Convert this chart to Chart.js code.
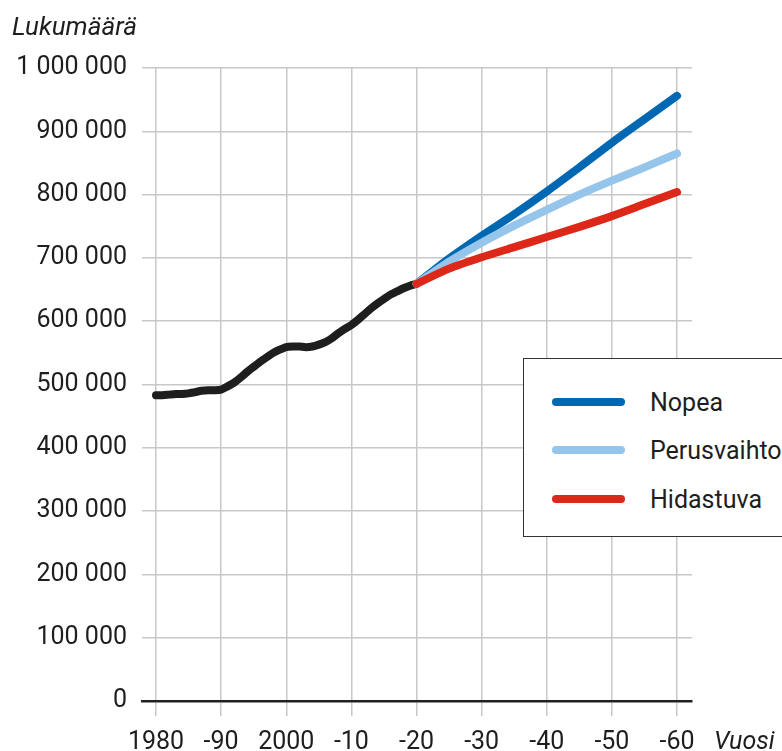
<!DOCTYPE html>
<html>
<head>
<meta charset="utf-8">
<script src="https://cdn.jsdelivr.net/npm/chart.js@4/dist/chart.umd.min.js"></script>
<style>
  html, body { margin: 0; padding: 0; background: #fff; overflow: hidden; }
  #wrap { position: relative; width: 782px; height: 751px; }
  #legend {
    position: absolute; left: 523px; top: 358px; width: 300px; height: 179px;
    border: 1.5px solid #333; background: #fff; box-sizing: border-box;
    font-family: Roboto, sans-serif; font-size: 25px; color: #1e1e1e;
  }
  .item { position: absolute; left: 28px; height: 30px; display: flex; align-items: center; white-space: nowrap; }
  .sw { width: 73px; height: 8px; border-radius: 4px; margin-right: 25px; }
</style>
</head>
<body>
<div id="wrap">
  <canvas id="chart" width="782" height="751"></canvas>
  <div id="legend"></div>
</div>
<script>
// Historical population 1980–2020
const histYears = [1980, 1981, 1982, 1983, 1984, 1985, 1986, 1987, 1988, 1989,
  1990, 1991, 1992, 1993, 1994, 1995, 1996, 1997, 1998, 1999,
  2000, 2001, 2002, 2003, 2004, 2005, 2006, 2007, 2008, 2009,
  2010, 2011, 2012, 2013, 2014, 2015, 2016, 2017, 2018, 2019, 2020];
const histValues = [483000, 483000, 484000, 485000, 485000, 486000, 488000, 490000, 491000, 491000,
  492000, 497000, 503000, 511000, 520000, 528000, 536000, 543000, 550000, 555000,
  559000, 560000, 560000, 559000, 560000, 563000, 567000, 573000, 581000, 588000,
  594000, 602000, 611000, 620000, 628000, 635000, 642000, 647000, 652000, 656000, 659000];

// Projections 2020–2060
const projYears = [2020, 2025, 2030, 2035, 2040, 2045, 2050, 2055, 2060];
const nopea      = [659000, 699000, 735000, 769000, 805000, 843000, 882000, 919000, 956000];
const perus      = [659000, 694000, 724000, 751000, 776000, 800000, 822000, 843000, 865000];
const hidastuva  = [659000, 683000, 701000, 717000, 733000, 749000, 766000, 785000, 804000];

const tickYears  = [1980, 1990, 2000, 2010, 2020, 2030, 2040, 2050, 2060];
const tickLabels = ['1980', '-90', '2000', '-10', '-20', '-30', '-40', '-50', '-60'];

const toXY = (xs, ys) => xs.map((x, i) => ({ x, y: ys[i] }));
const fmt = v => String(v).replace(/\B(?=(\d{3})+(?!\d))/g, ' ');

const textColor = '#1e1e1e';
const gridColor = '#c8c8c8';
const tickFont = { family: 'Roboto', size: 25 };

const lineStyle = {
  borderWidth: 8,
  borderCapStyle: 'round',
  borderJoinStyle: 'round',
  pointRadius: 0,
  tension: 0.25,
  fill: false,
};

const titles = {
  id: 'titles',
  afterDraw(chart) {
    const ctx = chart.ctx;
    ctx.save();
    ctx.fillStyle = textColor;
    ctx.textBaseline = 'alphabetic';
    ctx.textAlign = 'left';
    ctx.font = 'italic 26px Roboto';
    ctx.fillText('Lukumäärä', 12, 35);
    ctx.font = 'italic 25px Roboto';
    ctx.fillText('Vuosi', 714, 749);
    ctx.restore();
  }
};

const chart = new Chart(document.getElementById('chart'), {
  type: 'line',
  data: {
    datasets: [
      { label: 'Historia', data: toXY(histYears, histValues), borderColor: '#1e1e1e', order: 4, ...lineStyle },
      { label: 'Nopea', data: toXY(projYears, nopea), borderColor: '#0068b3', order: 3, ...lineStyle },
      { label: 'Perusvaihtoehto', data: toXY(projYears, perus), borderColor: '#96c5eb', order: 2, ...lineStyle },
      { label: 'Hidastuva', data: toXY(projYears, hidastuva), borderColor: '#dc2719', order: 1, ...lineStyle },
    ],
  },
  options: {
    responsive: false,
    animation: false,
    layout: { padding: { top: 68, right: 90, bottom: 0, left: 0 } },
    plugins: { legend: { display: false }, tooltip: { enabled: false } },
    scales: {
      x: {
        type: 'linear',
        min: 1977.85,
        max: 2062.3,
        afterBuildTicks: s => { s.ticks = tickYears.map(v => ({ value: v })); },
        afterFit: s => { s.height = 50; },
        ticks: {
          autoSkip: false, maxRotation: 0, padding: 12,
          color: textColor, font: tickFont,
          callback: (v, i) => tickLabels[i],
        },
        grid: { color: gridColor, lineWidth: 1.5, tickLength: 15 },
        border: { color: '#222', width: 2.5 },
      },
      y: {
        min: 0,
        max: 1000000,
        afterFit: s => { s.width = 142; },
        ticks: { stepSize: 100000, padding: 15, color: textColor, font: tickFont, callback: v => fmt(v) },
        grid: { color: gridColor, lineWidth: 1.5, drawTicks: false },
        border: { display: false },
      },
    },
  },
  plugins: [titles],
});

// HTML legend built from the projection datasets
const legend = document.getElementById('legend');
const centers = [43, 91, 140];
chart.data.datasets.slice(1).forEach((ds, i) => {
  const item = document.createElement('div');
  item.className = 'item';
  item.style.top = (centers[i] - 15) + 'px';
  item.innerHTML = `<span class="sw" style="background:${ds.borderColor}"></span><span>${ds.label}</span>`;
  legend.appendChild(item);
});
</script>
</body>
</html>
